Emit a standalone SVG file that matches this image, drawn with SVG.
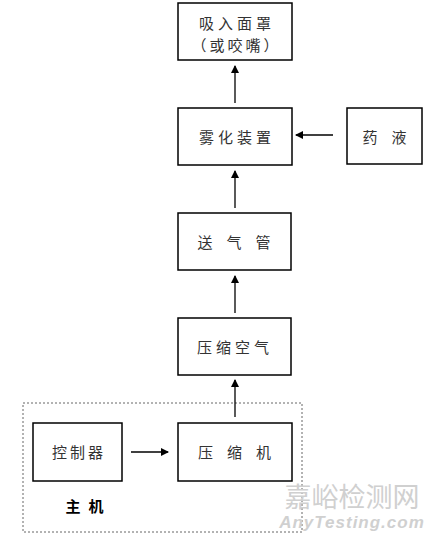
<svg xmlns="http://www.w3.org/2000/svg" width="434" height="537" viewBox="0 0 434 537">
<style>
.box{fill:#fff;stroke:#000;stroke-width:1.5}
.t{font-family:"Noto Sans CJK SC","Noto Sans CJK JP",sans-serif;font-size:15px;fill:#333;text-anchor:middle;dominant-baseline:central}
.c{stroke:#000;stroke-width:1.3;fill:none;marker-end:url(#ah)}
</style>
<defs>
<marker id="ah" markerWidth="8" markerHeight="8" refX="7" refY="4" orient="auto" markerUnits="userSpaceOnUse">
<path d="M0,0 L8,4 L0,8 z" fill="#000"/>
</marker>
</defs>
<rect x="0" y="0" width="434" height="537" fill="#fff"/>
<g id="host">
<rect x="23" y="403" width="279" height="129" fill="none" stroke="#666" stroke-width="1" stroke-dasharray="2,2"/>
<text x="88.5" y="505" font-family="Noto Sans CJK SC,sans-serif" font-size="15" font-weight="bold" text-anchor="middle" dominant-baseline="central" letter-spacing="8">主机</text>
</g>
<g id="mask"><rect class="box" x="178" y="3" width="114" height="57"/>
<text class="t" x="237" y="22" letter-spacing="4">吸入面罩</text>
<text class="t" x="236.5" y="44" letter-spacing="3">（或咬嘴）</text></g>
<g id="atomizer"><rect class="box" x="178" y="108" width="114" height="57"/>
<text class="t" x="237" y="136" letter-spacing="4">雾化装置</text></g>
<g id="liquid"><rect class="box" x="347" y="108" width="75" height="56"/>
<text class="t" x="391.5" y="136" letter-spacing="14">药液</text></g>
<g id="tube"><rect class="box" x="178" y="213" width="113" height="57"/>
<text class="t" x="241" y="241" letter-spacing="14">送气管</text></g>
<g id="air"><rect class="box" x="178" y="318" width="113" height="57"/>
<text class="t" x="235" y="346" letter-spacing="4">压缩空气</text></g>
<g id="controller"><rect class="box" x="33" y="423" width="89" height="58"/>
<text class="t" x="79" y="451" letter-spacing="3">控制器</text></g>
<g id="compressor"><rect class="box" x="178" y="423" width="114" height="58"/>
<text class="t" x="241.5" y="451" letter-spacing="14">压缩机</text></g>
<g id="connectors">
<line class="c" x1="235" y1="103" x2="235" y2="66"/>
<line class="c" x1="333" y1="135" x2="296" y2="135"/>
<line class="c" x1="235" y1="208" x2="235" y2="171"/>
<line class="c" x1="235" y1="313" x2="235" y2="276"/>
<line class="c" x1="235" y1="417" x2="235" y2="380"/>
<line class="c" x1="131" y1="452" x2="168" y2="452"/>
</g>
<g id="watermark" fill="#d0d0d0">
<text x="352" y="495" font-family="Noto Sans CJK SC,sans-serif" font-size="27" text-anchor="middle" dominant-baseline="central">嘉峪检测网</text>
<text x="352" y="528" font-family="Liberation Sans,sans-serif" font-size="17" font-style="italic" font-weight="bold" text-anchor="middle" letter-spacing="1">AnyTesting.com</text>
</g>
</svg>
